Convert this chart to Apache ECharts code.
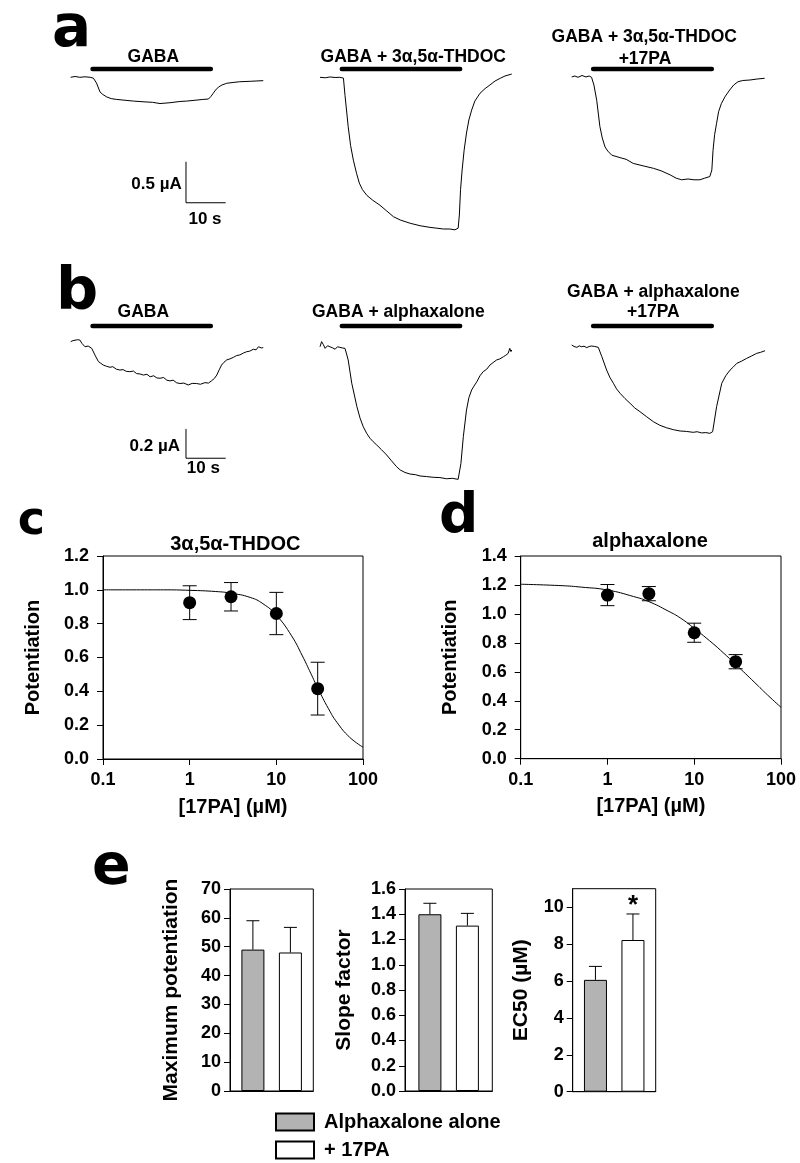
<!DOCTYPE html>
<html><head><meta charset="utf-8">
<script src="https://cdn.jsdelivr.net/npm/echarts@6/dist/echarts.min.js"></script>
<style>html,body{margin:0;padding:0;background:#fff}#chart{width:800px;height:1163px}</style>
</head><body><div id="chart"></div>
<script>
// ================= DATA =================
// Panel a traces: [time (s), current (µA)]
const traceA_gaba = [[0,0],[1.1,0.01],[2.3,0],[3.6,0.006],[4.9,0],[5.7,-0.01],[6.5,-0.07],[7.4,-0.18],[8.1,-0.21],[9.1,-0.24],[10.2,-0.26],[11.6,-0.27],[13.7,-0.28],[15.8,-0.29],[18.7,-0.30],[20.6,-0.305],[22.5,-0.32],[25,-0.31],[27.5,-0.295],[29.2,-0.29],[31.3,-0.28],[33.3,-0.27],[34.7,-0.265],[35.3,-0.235],[35.9,-0.195],[36.5,-0.155],[37.2,-0.12],[38.1,-0.094],[39.3,-0.073],[40.9,-0.063],[42.6,-0.054],[45.2,-0.049],[46.7,-0.045],[48.5,-0.041]];
const traceA_thdoc = [[0,0],[1.3,-0.006],[2.5,0.004],[3.8,-0.002],[5,0],[5.9,-0.01],[6.3,-0.22],[7.1,-0.60],[7.7,-0.83],[8.4,-1.01],[9.2,-1.17],[9.9,-1.29],[10.7,-1.37],[11.8,-1.44],[13.3,-1.50],[15.1,-1.56],[16.8,-1.63],[18.5,-1.70],[20.2,-1.74],[22.7,-1.78],[25.2,-1.81],[27.7,-1.83],[29.4,-1.84],[31.1,-1.85],[32.7,-1.85],[34,-1.86],[34.8,-1.84],[35.1,-1.68],[35.4,-1.37],[35.8,-1.13],[36.3,-0.89],[36.9,-0.68],[37.5,-0.52],[38.2,-0.40],[39,-0.29],[40.3,-0.195],[41.6,-0.137],[42.8,-0.094],[44.1,-0.045],[45.4,-0.012],[46.6,0.016],[48.3,0.04]];
const traceA_thdoc17PA = [[0,0.004],[0.8,0.016],[1.6,0],[2.6,0.022],[3.6,0.004],[4.4,0.016],[5,0],[5.6,-0.094],[6.3,-0.28],[7.1,-0.60],[7.7,-0.74],[8.4,-0.85],[9.1,-0.90],[10.1,-0.95],[12.2,-0.98],[13.7,-1.00],[15.5,-1.05],[18,-1.08],[20.6,-1.11],[22.5,-1.14],[24.8,-1.19],[26.3,-1.23],[27.7,-1.25],[29.3,-1.24],[30.8,-1.25],[32.3,-1.25],[33.5,-1.23],[34.8,-1.21],[35.3,-1.13],[35.6,-0.89],[36,-0.70],[36.5,-0.56],[37,-0.42],[37.7,-0.32],[38.7,-0.23],[39.8,-0.155],[40.8,-0.094],[41.9,-0.054],[43.1,-0.039],[44.9,-0.033],[46.7,-0.021],[48.6,-0.012]];
// Panel b traces
const traceB_gaba = [[0,0.023],[0.6,0.03],[1.1,0.029],[1.7,0.036],[2.3,0.034],[2.8,0.012],[3.2,0.02],[3.6,-0.012],[4,-0.002],[4.4,-0.007],[4.8,-0.018],[5.3,-0.023],[6.1,-0.068],[7,-0.114],[7.6,-0.125],[8.2,-0.137],[9,-0.145],[9.9,-0.152],[10.6,-0.148],[11.5,-0.165],[12.4,-0.171],[13.2,-0.168],[14,-0.18],[14.9,-0.182],[15.8,-0.178],[16.6,-0.195],[17.5,-0.198],[18.3,-0.205],[19.2,-0.2],[20,-0.217],[20.9,-0.21],[21.7,-0.225],[22.5,-0.227],[23.4,-0.222],[24.2,-0.24],[25,-0.245],[25.8,-0.24],[26.7,-0.258],[27.5,-0.263],[28.5,-0.26],[29.6,-0.273],[30.6,-0.262],[31.7,-0.263],[32.7,-0.268],[33.8,-0.257],[34.7,-0.26],[35.5,-0.244],[36.2,-0.228],[36.8,-0.205],[37.4,-0.17],[38,-0.137],[38.6,-0.118],[39.3,-0.102],[40.1,-0.095],[41,-0.084],[41.8,-0.072],[42.6,-0.068],[43.5,-0.055],[44.3,-0.046],[45.1,-0.042],[46,-0.029],[46.7,-0.033],[47.3,-0.012],[48,-0.02],[48.5,-0.018]];
const traceB_alpha = [[0,-0.012],[0.4,0.023],[0.8,0.005],[1.3,-0.023],[1.9,-0.005],[2.5,-0.012],[3.2,-0.02],[3.8,-0.029],[4.4,-0.012],[5,-0.016],[5.6,-0.02],[6.3,-0.023],[7.1,-0.102],[8,-0.261],[9.3,-0.421],[10.1,-0.5],[10.9,-0.558],[11.8,-0.605],[12.6,-0.637],[13.4,-0.66],[14.3,-0.683],[15.5,-0.715],[16.8,-0.751],[18,-0.79],[19.3,-0.831],[20.2,-0.853],[21.4,-0.87],[22.7,-0.881],[24,-0.885],[25.2,-0.894],[26.8,-0.898],[28.5,-0.903],[30.2,-0.905],[31.9,-0.913],[33.3,-0.91],[34.8,-0.917],[35.5,-0.808],[36.1,-0.626],[36.9,-0.444],[37.5,-0.36],[38.2,-0.307],[38.8,-0.28],[39.5,-0.251],[40.3,-0.21],[41.1,-0.182],[42,-0.165],[42.8,-0.137],[43.6,-0.12],[44.5,-0.102],[45.3,-0.095],[46.2,-0.08],[46.8,-0.07],[47.4,-0.057],[47.8,-0.023],[48.1,-0.045],[48.3,-0.034]];
const traceB_alpha17PA = [[0,0],[0.6,-0.01],[1.3,-0.016],[1.9,-0.006],[2.5,-0.012],[3.1,-0.008],[3.8,-0.018],[4.4,-0.01],[5,-0.007],[5.8,-0.01],[6.7,-0.016],[7.6,-0.08],[8.8,-0.171],[9.6,-0.22],[10.5,-0.261],[11.3,-0.3],[12.2,-0.33],[13.4,-0.365],[14.7,-0.398],[15.9,-0.43],[17.2,-0.455],[18.9,-0.49],[20.6,-0.524],[22.2,-0.548],[23.9,-0.565],[25.6,-0.578],[27.3,-0.587],[28.9,-0.59],[30.6,-0.596],[31.6,-0.592],[32.7,-0.6],[33.8,-0.598],[34.8,-0.603],[35.5,-0.592],[36.5,-0.421],[37.8,-0.261],[38.8,-0.21],[39.9,-0.171],[40.7,-0.15],[41.6,-0.125],[42.8,-0.11],[44.1,-0.091],[45.3,-0.075],[46.6,-0.057],[47.6,-0.05],[48.7,-0.039]];
// drug application periods [on, off] (s)
const applyA = [[5.5, 35.3], [5.5, 35.3], [5.4, 35.3]];
const applyB = [[5.5, 35.3], [5.5, 35.3], [5.4, 35.3]];
const traceLabelsA = ['GABA', 'GABA + 3α,5α-THDOC', ['GABA + 3α,5α-THDOC', '+17PA']];
const traceLabelsB = ['GABA', 'GABA + alphaxalone', ['GABA + alphaxalone', '+17PA']];
// scale bars
const scaleA = {current: 0.5, time: 10, label: '0.5 µA', timeLabel: '10 s'};
const scaleB = {current: 0.2, time: 10, label: '0.2 µA', timeLabel: '10 s'};

// Panel c: 3α,5α-THDOC
const conc = [1, 3, 10, 30];
const cMean = [0.924, 0.959, 0.860, 0.416];
const cSem = [0.100, 0.084, 0.125, 0.156];
const cFitX = [0.1, 0.3, 0.5, 1, 2, 3, 5, 7, 10, 15, 20, 25, 30, 40, 50, 70, 100];
const cFitY = [1.0, 1.0, 1.0, 0.997, 0.99, 0.98, 0.955, 0.918, 0.85, 0.728, 0.609, 0.506, 0.42, 0.297, 0.217, 0.129, 0.07];
// Panel d: alphaxalone
const dMean = [1.13, 1.14, 0.87, 0.67];
const dSem = [0.073, 0.049, 0.066, 0.049];
const dFitX = [0.1, 0.3, 0.5, 1, 2, 3, 5, 7, 10, 15, 20, 30, 50, 70, 100];
const dFitY = [1.205, 1.195, 1.185, 1.165, 1.12, 1.085, 1.02, 0.97, 0.90, 0.815, 0.75, 0.652, 0.525, 0.44, 0.355];

// Panel e: [Alphaxalone alone, + 17PA]
const groups = ['Alphaxalone alone', '+ 17PA'];
const maxPotMean = [49.0, 48.0], maxPotSem = [10.0, 8.7];
const slopeMean = [1.40, 1.31], slopeSem = [0.087, 0.097];
const ec50Mean = [6.06, 8.22], ec50Sem = [0.73, 1.41];
const ec50Sig = [false, true];

// ================= BUILD =================
const FONT = "'Liberation Sans', Arial, Helvetica, sans-serif";
const BIG = "'DejaVu Sans', Verdana, sans-serif";
const grids = [], xAxes = [], yAxes = [], series = [], graphics = [];
function addGrid(g, xa, ya) {
  grids.push(g); const i = grids.length - 1;
  xa.gridIndex = i; ya.gridIndex = i; xAxes.push(xa); yAxes.push(ya); return i;
}
function lineSeries(i, data, width, extra) {
  return Object.assign({type: 'line', xAxisIndex: i, yAxisIndex: i, data: data, symbol: 'none', showSymbol: false,
    silent: true, animation: false, lineStyle: {color: '#000', width: width}}, extra || {});
}
function text(t, x, y, opt) {
  opt = opt || {};
  graphics.push({type: 'text', x: x, y: y, scaleX: opt.scaleX || 1, silent: true,
    style: {text: t, fill: '#000', font: opt.font, textAlign: opt.align || 'center', textVerticalAlign: opt.valign || 'middle'}});
}

// ---- trace panels ----
const traceLefts = [70.7, 320, 571.7];
const pxPerSec = 3.97, timeSpan = 53;
function tracePanel(traces, apply, lvl, top, height, yMin, yMax, scale, anchor) {
  traces.forEach((tr, k) => {
    const gi = addGrid({left: traceLefts[k], top: top, width: timeSpan * pxPerSec, height: height},
      {type: 'value', min: 0, max: timeSpan, show: false},
      {type: 'value', min: yMin, max: yMax, show: false});
    series.push(lineSeries(gi, tr, 1));
    series.push(lineSeries(gi, [[apply[k][0], lvl], [apply[k][1], lvl]], 4.5, {lineStyle: {color: '#000', width: 4.5, cap: 'round'}}));
    if (k === 0) {
      const t0 = anchor[0], i0 = anchor[1];
      series.push(lineSeries(gi, [[t0, i0], [t0, i0 - scale.current], [t0 + scale.time, i0 - scale.current]], 1));
    }
  });
}
tracePanel([traceA_gaba, traceA_thdoc, traceA_thdoc17PA], applyA, 0.10, 52.7, 188.6, -2, 0.3, scaleA, [29.04, -1.03]);
tracePanel([traceB_gaba, traceB_alpha, traceB_alpha17PA], applyB, 0.13, 315.7, 175.8, -1, 0.2, scaleB, [29.04, -0.573]);

const LBL = 'bold 17.5px ' + FONT;
text(traceLabelsA[0], 153.3, 56.7, {font: LBL});
text(traceLabelsA[1], 413.3, 56.7, {font: LBL});
text(traceLabelsA[2][0], 644.2, 36.7, {font: LBL});
text(traceLabelsA[2][1], 645, 59.2, {font: LBL});
text(traceLabelsB[0], 143.3, 311.7, {font: LBL});
text(traceLabelsB[1], 398.3, 312.5, {font: LBL});
text(traceLabelsB[2][0], 653.3, 292.5, {font: LBL});
text(traceLabelsB[2][1], 653.3, 312.5, {font: LBL});
text(scaleA.label, 181.7, 184, {font: 'bold 17px ' + FONT, align: 'right'});
text(scaleA.timeLabel, 205, 219, {font: 'bold 17px ' + FONT});
text(scaleB.label, 180, 446.5, {font: 'bold 17px ' + FONT, align: 'right'});
text(scaleB.timeLabel, 203.3, 468, {font: 'bold 17px ' + FONT});

// panel letters
text('a', 52, 31, {font: 'bold 58px ' + BIG, align: 'left'});
text('b', 56, 293.5, {font: 'bold 59px ' + BIG, align: 'left'});
text('c', 17.7, 522.5, {font: 'bold 46px ' + BIG, align: 'left'});
text('d', 439, 518, {font: 'bold 55px ' + BIG, align: 'left'});
text('e', 92, 869, {font: 'bold 57px ' + BIG, align: 'left'});

// ---- dose-response panels ----
const tickFont = {color: '#000', fontSize: 18, fontWeight: 'bold', fontFamily: FONT};
const nameFont = {color: '#000', fontSize: 20, fontWeight: 'bold', fontFamily: FONT};
function errRender(capHalf) {
  return function (params, api) {
    const x = api.value(0), y = api.value(1), e = api.value(2);
    const t = api.coord([x, y + e]), b = api.coord([x, y - e]);
    const st = {stroke: '#000', lineWidth: 1};
    return {type: 'group', children: [
      {type: 'line', shape: {x1: t[0], y1: t[1], x2: b[0], y2: b[1]}, style: st},
      {type: 'line', shape: {x1: t[0] - capHalf, y1: t[1], x2: t[0] + capHalf, y2: t[1]}, style: st},
      {type: 'line', shape: {x1: b[0] - capHalf, y1: b[1], x2: b[0] + capHalf, y2: b[1]}, style: st}
    ]};
  };
}
function dosePanel(left, width, height, yMax, mean, sem, fitX, fitY, title, titleX, titleY) {
  const gi = addGrid({left: left, top: 556, width: width, height: height, show: true, borderColor: '#000', borderWidth: 1},
    {type: 'log', logBase: 10, min: 0.1, max: 100,
      axisLine: {show: true, lineStyle: {color: '#000', width: 1}},
      axisTick: {show: true, length: 6, lineStyle: {color: '#000'}},
      minorTick: {show: false}, splitLine: {show: false}, minorSplitLine: {show: false},
      axisLabel: Object.assign({margin: 12, formatter: v => String(v)}, tickFont),
      name: '[17PA] (µM)', nameLocation: 'middle', nameGap: 38, nameTextStyle: nameFont},
    {type: 'value', min: 0, max: yMax, interval: 0.2,
      axisLine: {show: true, lineStyle: {color: '#000', width: 1}},
      axisTick: {show: true, length: 6, lineStyle: {color: '#000'}},
      splitLine: {show: false},
      axisLabel: Object.assign({margin: 14, formatter: v => v.toFixed(1)}, tickFont),
      name: 'Potentiation', nameLocation: 'middle', nameGap: 60, nameTextStyle: nameFont});
  series.push(lineSeries(gi, fitX.map((x, i) => [x, fitY[i]]), 1, {smooth: true}));
  series.push({type: 'custom', xAxisIndex: gi, yAxisIndex: gi, animation: false, silent: true,
    data: conc.map((x, i) => [x, mean[i], sem[i]]), encode: {x: 0, y: 1}, renderItem: errRender(7), z: 3});
  series.push({type: 'scatter', xAxisIndex: gi, yAxisIndex: gi, animation: false, silent: true,
    data: conc.map((x, i) => [x, mean[i]]), symbol: 'circle', symbolSize: 13, itemStyle: {color: '#000', opacity: 1}, z: 5});
  text(title, titleX, titleY, {font: 'bold 20px ' + FONT});
}
dosePanel(103, 260, 203, 1.2, cMean, cSem, cFitX, cFitY, '3α,5α-THDOC', 235.3, 544);
dosePanel(520.7, 260.3, 202.7, 1.4, dMean, dSem, dFitX, dFitY, 'alphaxalone', 650, 541.7);

// ---- bar panels ----
const GRAY = '#b3b3b3';
function barPanel(left, width, top, height, yMax, interval, fmt, name, nameGap, mean, sem, sig, customTicks) {
  const ya = {type: 'value', min: 0, max: yMax, interval: interval,
    axisLine: {show: true, lineStyle: {color: '#000', width: 1}},
    axisTick: {show: true, length: 6, lineStyle: {color: '#000'}},
    splitLine: {show: false},
    axisLabel: Object.assign({margin: 9, formatter: fmt}, tickFont),
    name: name, nameLocation: 'middle', nameGap: nameGap, nameTextStyle: Object.assign({}, nameFont, {fontSize: 21})};
  if (customTicks) { ya.axisTick.customValues = customTicks; ya.axisLabel.customValues = customTicks; delete ya.interval; }
  const gi = addGrid({left: left, top: top, width: width, height: height, show: true, borderColor: '#000', borderWidth: 1},
    {type: 'category', data: [''], axisLine: {show: true, lineStyle: {color: '#000'}}, axisTick: {show: false}, axisLabel: {show: false}},
    ya);
  const colors = [GRAY, '#ffffff'];
  groups.forEach((g, k) => {
    series.push({type: 'bar', name: g, xAxisIndex: gi, yAxisIndex: gi, data: [mean[k]], barWidth: 23, barGap: '63%',
      animation: false, silent: true, itemStyle: {color: colors[k], borderColor: '#000', borderWidth: 1}, z: 2});
  });
  const offs = [-18.75, 18.75];
  series.push({type: 'custom', xAxisIndex: gi, yAxisIndex: gi, animation: false, silent: true, z: 3,
    data: mean.map((m, k) => [0, m, sem[k], k, sig && sig[k] ? 1 : 0]),
    encode: {x: 0, y: 1},
    renderItem: function (params, api) {
      const v = api.value(1), e = api.value(2), k = api.value(3), s = api.value(4);
      const b = api.coord([0, v]), t = api.coord([0, v + e]);
      const x = b[0] + offs[k];
      const st = {stroke: '#000', lineWidth: 1};
      const ch = [
        {type: 'line', shape: {x1: x, y1: b[1], x2: x, y2: t[1]}, style: st},
        {type: 'line', shape: {x1: x - 6.5, y1: t[1], x2: x + 6.5, y2: t[1]}, style: st}
      ];
      if (s) ch.push({type: 'text', style: {text: '*', x: x, y: t[1] - 8, fill: '#000', font: 'bold 26px ' + FONT, textAlign: 'center', textVerticalAlign: 'middle'}});
      return {type: 'group', children: ch};
    }});
}
barPanel(230, 83.3, 889, 202, 70, 10, v => String(v), 'Maximum potentiation', 48, maxPotMean, maxPotSem, null);
barPanel(405, 87.3, 889, 202, 1.6, 0.2, v => v.toFixed(1), 'Slope factor', 50, slopeMean, slopeSem, null);
barPanel(572.7, 83, 888.7, 203, 11, 2, v => String(v), 'EC50 (µM)', 41, ec50Mean, ec50Sem, ec50Sig, [0, 2, 4, 6, 8, 10]);

const chart = echarts.init(document.getElementById('chart'), null, {renderer: 'canvas'});
chart.setOption({
  animation: false,
  backgroundColor: '#fff',
  grid: grids, xAxis: xAxes, yAxis: yAxes, series: series,
  legend: {data: groups, orient: 'vertical', left: 275, top: 1112, itemWidth: 38, itemHeight: 17, itemGap: 8,
    padding: 0, icon: 'rect', selectedMode: false,
    textStyle: {color: '#000', fontSize: 20, fontWeight: 'bold', fontFamily: FONT, padding: [0, 0, 0, 5]}},
  graphic: graphics
});
</script></body></html>
